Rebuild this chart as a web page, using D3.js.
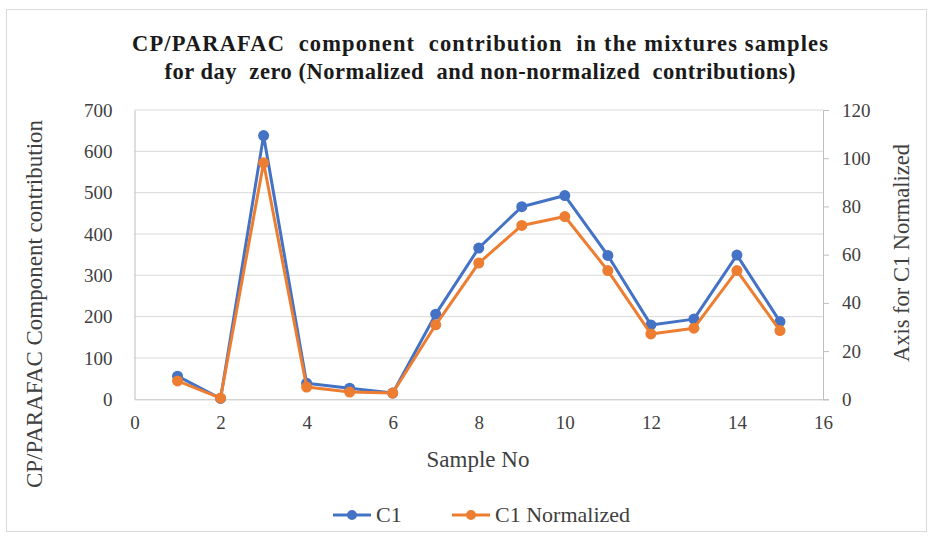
<!DOCTYPE html>
<html>
<head>
<meta charset="utf-8">
<script src="https://cdn.jsdelivr.net/npm/d3@7"></script>
<style>
  html, body { margin: 0; padding: 0; background: #fff; }
  svg { display: block; font-family: "Liberation Serif", "Times New Roman", serif; }
</style>
</head>
<body>
<svg id="chart" width="933" height="538"></svg>
<script>
// Sample numbers on the x axis
const samples = [1, 2, 3, 4, 5, 6, 7, 8, 9, 10, 11, 12, 13, 14, 15];
// C1 contribution (primary axis)
const c1 = [56, 2, 638, 39, 27, 15, 206, 366, 466, 493, 348, 180, 194, 349, 188];
// C1 normalized contribution (secondary axis)
const c1Normalized = [7.6, 0.5, 98.1, 5.1, 3.0, 2.6, 30.9, 56.5, 72.1, 75.8, 53.4, 27.1, 29.5, 53.4, 28.5];

const xTicks = [0, 2, 4, 6, 8, 10, 12, 14, 16];
const yLeftTicks = [0, 100, 200, 300, 400, 500, 600, 700];
const yRightTicks = [0, 20, 40, 60, 80, 100, 120];

const titleLines = [
  "CP/PARAFAC  component  contribution  in the mixtures samples",
  "for day  zero (Normalized  and non-normalized  contributions)"
];
const leftTitle = "CP/PARAFAC Component contribution";
const rightTitle = "Axis for C1 Normalized";
const xTitle = "Sample No";
const seriesNames = ["C1", "C1 Normalized"];

const blue = "#4472C4", orange = "#ED7D31";
const textColor = "#404040";
const svg = d3.select("#chart");

// outer chart border
svg.append("rect")
  .attr("x", 6.5).attr("y", 9.5).attr("width", 920).attr("height", 522)
  .attr("fill", "#fff").attr("stroke", "#d9d9d9").attr("stroke-width", 1);

const plot = { left: 134.5, right: 823, top: 110, bottom: 399.3 };

const x = d3.scaleLinear().domain([0, 16]).range([plot.left, plot.right]);
const yL = d3.scaleLinear().domain([0, 700]).range([plot.bottom, plot.top]);
const yR = d3.scaleLinear().domain([0, 120]).range([plot.bottom, plot.top]);

// horizontal gridlines
svg.append("g")
  .selectAll("line").data(yLeftTicks.filter(d => d > 0)).join("line")
  .attr("x1", plot.left).attr("x2", plot.right)
  .attr("y1", d => yL(d)).attr("y2", d => yL(d))
  .attr("stroke", "#d9d9d9").attr("stroke-width", 1);

function styleTicks(g) {
  g.selectAll("text").attr("font-size", 19).attr("fill", textColor)
    .attr("font-family", "Liberation Serif");
}

// bottom axis
const xAxis = svg.append("g").attr("transform", `translate(0,${plot.bottom})`)
  .call(d3.axisBottom(x).tickValues(xTicks).tickSize(0).tickPadding(16).tickFormat(d3.format("d")));
xAxis.select(".domain").attr("stroke", "#bfbfbf");
styleTicks(xAxis);

// left axis
const yAxisL = svg.append("g").attr("transform", `translate(${plot.left},0)`)
  .call(d3.axisLeft(yL).tickValues(yLeftTicks).tickSize(0).tickPadding(22).tickFormat(d3.format("d")));
yAxisL.select(".domain").attr("stroke", "#bfbfbf");
styleTicks(yAxisL);

// right axis with outward ticks
const yAxisR = svg.append("g").attr("transform", `translate(${plot.right},0)`)
  .call(d3.axisRight(yR).tickValues(yRightTicks).tickSize(6).tickPadding(13).tickFormat(d3.format("d")));
yAxisR.select(".domain").attr("stroke", "#bfbfbf");
yAxisR.selectAll(".tick line").attr("stroke", "#bfbfbf");
styleTicks(yAxisR);

// series lines and markers
function drawSeries(values, yScale, color) {
  const pts = samples.map((s, i) => [s, values[i]]);
  svg.append("path").datum(pts)
    .attr("fill", "none").attr("stroke", color).attr("stroke-width", 3)
    .attr("stroke-linejoin", "round")
    .attr("d", d3.line().x(d => x(d[0])).y(d => yScale(d[1])));
  svg.append("g").selectAll("circle").data(pts).join("circle")
    .attr("cx", d => x(d[0])).attr("cy", d => yScale(d[1])).attr("r", 5.5)
    .attr("fill", color);
}
drawSeries(c1, yL, blue);
drawSeries(c1Normalized, yR, orange);

// title, two centred lines
const titleWidths = [696, 631];
svg.append("g").selectAll("text").data(titleLines).join("text")
  .attr("x", 480).attr("y", (d, i) => 51 + i * 28)
  .attr("text-anchor", "middle").attr("font-weight", "bold").attr("font-size", 22.5)
  .attr("fill", "#1a1a1a").style("white-space", "pre")
  .attr("textLength", (d, i) => titleWidths[i]).attr("lengthAdjust", "spacing")
  .text(d => d);

// axis titles
svg.append("text")
  .attr("transform", `translate(42,304) rotate(-90)`)
  .attr("text-anchor", "middle").attr("font-size", 23).attr("fill", textColor)
  .text(leftTitle);
svg.append("text")
  .attr("transform", `translate(909,253) rotate(-90)`)
  .attr("text-anchor", "middle").attr("font-size", 22.5).attr("fill", textColor)
  .text(rightTitle);
svg.append("text")
  .attr("x", 478).attr("y", 467)
  .attr("text-anchor", "middle").attr("font-size", 23).attr("fill", textColor)
  .text(xTitle);

// legend
const legendItems = [
  { name: seriesNames[0], color: blue, x0: 333 },
  { name: seriesNames[1], color: orange, x0: 452 }
];
const lg = svg.append("g").selectAll("g").data(legendItems).join("g");
lg.append("line")
  .attr("x1", d => d.x0).attr("x2", d => d.x0 + 38)
  .attr("y1", 515).attr("y2", 515)
  .attr("stroke", d => d.color).attr("stroke-width", 3);
lg.append("circle")
  .attr("cx", d => d.x0 + 19).attr("cy", 515).attr("r", 5).attr("fill", d => d.color);
lg.append("text")
  .attr("x", d => d.x0 + 43).attr("y", 522)
  .attr("font-size", 22).attr("fill", textColor)
  .text(d => d.name);
</script>
</body>
</html>
